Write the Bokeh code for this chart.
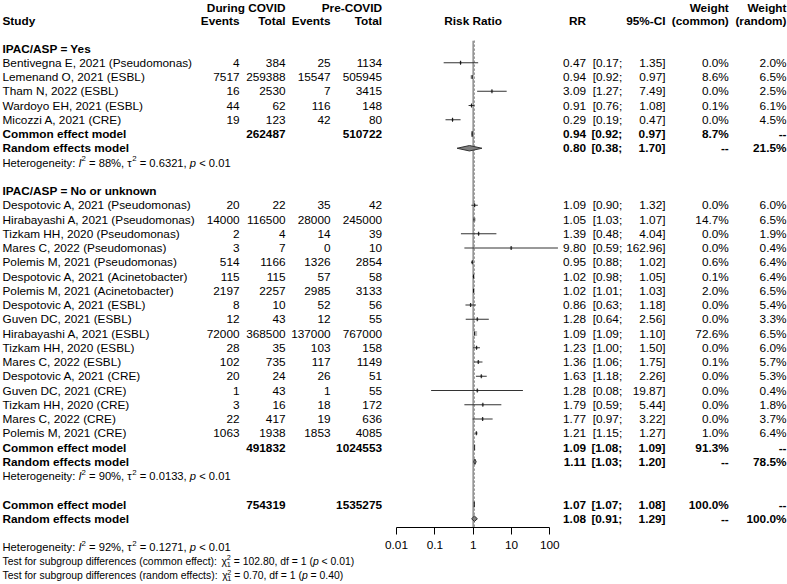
import math
from collections import defaultdict
from bokeh.plotting import figure
from bokeh.models import (Range1d, FixedTicker, ColumnDataSource, CustomJSTickFormatter,
                          LogScale, LogAxis)
from bokeh.core.properties import value
from bokeh.embed import file_html
from bokeh.resources import INLINE

# ---------------- data ----------------
subgroup_titles = ["IPAC/ASP = Yes", "IPAC/ASP = No or unknown"]

studies_yes = ["Bentivegna E, 2021 (Pseudomonas)", "Lemenand O, 2021 (ESBL)",
               "Tham N, 2022 (ESBL)", "Wardoyo EH, 2021 (ESBL)", "Micozzi A, 2021 (CRE)"]
events_covid_yes = [4, 7517, 16, 44, 19]
total_covid_yes = [384, 259388, 2530, 62, 123]
events_pre_yes = [25, 15547, 7, 116, 42]
total_pre_yes = [1134, 505945, 3415, 148, 80]
rr_yes = [0.47, 0.94, 3.09, 0.91, 0.29]
lower_yes = [0.17, 0.92, 1.27, 0.76, 0.19]
upper_yes = [1.35, 0.97, 7.49, 1.08, 0.47]
weight_common_yes = [0.0, 8.6, 0.0, 0.1, 0.0]
weight_random_yes = [2.0, 6.5, 2.5, 6.1, 4.5]

studies_no = ["Despotovic A, 2021 (Pseudomonas)", "Hirabayashi A, 2021 (Pseudomonas)",
              "Tizkam HH, 2020 (Pseudomonas)", "Mares C, 2022 (Pseudomonas)",
              "Polemis M, 2021 (Pseudomonas)", "Despotovic A, 2021 (Acinetobacter)",
              "Polemis M, 2021 (Acinetobacter)", "Despotovic A, 2021 (ESBL)",
              "Guven DC, 2021 (ESBL)", "Hirabayashi A, 2021 (ESBL)", "Tizkam HH, 2020 (ESBL)",
              "Mares C, 2022 (ESBL)", "Despotovic A, 2021 (CRE)", "Guven DC, 2021 (CRE)",
              "Tizkam HH, 2020 (CRE)", "Mares C, 2022 (CRE)", "Polemis M, 2021 (CRE)"]
events_covid_no = [20, 14000, 2, 3, 514, 115, 2197, 8, 12, 72000, 28, 102, 20, 1, 3, 22, 1063]
total_covid_no = [22, 116500, 4, 7, 1166, 115, 2257, 10, 43, 368500, 35, 735, 24, 43, 16, 417, 1938]
events_pre_no = [35, 28000, 14, 0, 1326, 57, 2985, 52, 12, 137000, 103, 117, 26, 1, 18, 19, 1853]
total_pre_no = [42, 245000, 39, 10, 2854, 58, 3133, 56, 55, 767000, 158, 1149, 51, 55, 172, 636, 4085]
rr_no = [1.09, 1.05, 1.39, 9.80, 0.95, 1.02, 1.02, 0.86, 1.28, 1.09, 1.23, 1.36, 1.63, 1.28, 1.79, 1.77, 1.21]
lower_no = [0.90, 1.03, 0.48, 0.59, 0.88, 0.98, 1.01, 0.63, 0.64, 1.09, 1.00, 1.06, 1.18, 0.08, 0.59, 0.97, 1.15]
upper_no = [1.32, 1.07, 4.04, 162.96, 1.02, 1.05, 1.03, 1.18, 2.56, 1.10, 1.50, 1.75, 2.26, 19.87, 5.44, 3.22, 1.27]
weight_common_no = [0.0, 14.7, 0.0, 0.0, 0.6, 0.1, 2.0, 0.0, 0.0, 72.6, 0.0, 0.1, 0.0, 0.0, 0.0, 0.0, 1.0]
weight_random_no = [6.0, 6.5, 1.9, 0.4, 6.4, 6.4, 6.5, 5.4, 3.3, 6.5, 6.0, 5.7, 5.3, 0.4, 1.8, 3.7, 6.4]

sub_common_rr = [0.94, 1.09]
sub_common_lower = [0.92, 1.08]
sub_common_upper = [0.97, 1.09]
sub_common_weight = [8.7, 91.3]
sub_random_rr = [0.80, 1.11]
sub_random_lower = [0.38, 1.03]
sub_random_upper = [1.70, 1.20]
sub_random_weight = [21.5, 78.5]
sub_total_covid = [262487, 491832]
sub_total_pre = [510722, 1024553]
sub_i2 = ["88%", "90%"]
sub_tau2 = ["0.6321", "0.0133"]
sub_p = ["< 0.01", "< 0.01"]

overall_common = [1.07, 1.07, 1.08]   # RR, lower, upper
overall_random = [1.08, 0.91, 1.29]
overall_weight = 100.0
overall_total_covid = 754319
overall_total_pre = 1535275
overall_i2 = "92%"
overall_tau2 = "0.1271"
overall_p = "< 0.01"

test_effects = ["common effect", "random effects"]
test_chi2 = ["102.80", "0.70"]
test_df = [1, 1]
test_p = ["< 0.01", "= 0.40"]

axis_ticks = [0.01, 0.1, 1, 10, 100]
axis_tick_labels = ["0.01", "0.1", "1", "10", "100"]

groups = [
    (studies_yes, events_covid_yes, total_covid_yes, events_pre_yes, total_pre_yes,
     rr_yes, lower_yes, upper_yes, weight_common_yes, weight_random_yes),
    (studies_no, events_covid_no, total_covid_no, events_pre_no, total_pre_no,
     rr_no, lower_no, upper_no, weight_common_no, weight_random_no),
]

# ---------------- layout constants ----------------
W, H = 787, 584
ROW_PX = 14.25
Y_TOP = -48 / ROW_PX
Y_BOT = Y_TOP + H / ROW_PX
Y_AXIS = (527 - 48) / ROW_PX
DEC_PX = 38.33
LOG_START = -2 - 396 / DEC_PX
LOG_END = LOG_START + W / DEC_PX

FONT = value("Liberation Sans")
FS = "11.8px"
FS_HET = 11.2
FS_TEST = 10.4

X_STUDY, X_EV_C, X_TOT_C, X_EV_P, X_TOT_P = 2, 239, 285, 330, 381.5
X_RR, X_LO, X_HI, X_WC, X_WR = 585.5, 621.7, 665, 728.3, 786
H1 = (7.5 - 48) / ROW_PX
H2 = (20.5 - 48) / ROW_PX

texts = defaultdict(lambda: dict(x=[], y=[], t=[]))


def T(fig, x, y, t, align="left", style="normal", size=FS):
    d = texts[(fig, align, style, size)]
    d["x"].append(x)
    d["y"].append(y)
    d["t"].append(t)


# Arial / Liberation Sans advance widths (1/1000 em)
AW = {" ": 278, "%": 889, "(": 333, ")": 333, ",": 278, "-": 333, ".": 278, ":": 278,
      ";": 278, "<": 584, "=": 584, ">": 584, "\u03c4": 440, "\u03c7": 500}
for c in "0123456789":
    AW[c] = 556
for c, w in zip("ABCDEFGHIJKLMNOPQRSTUVWXYZ",
                [667, 667, 722, 722, 667, 611, 778, 722, 278, 500, 667, 556, 833,
                 722, 778, 667, 778, 722, 667, 611, 722, 667, 944, 667, 667, 611]):
    AW[c] = w
for c, w in zip("abcdefghijklmnopqrstuvwxyz",
                [556, 556, 500, 556, 556, 278, 556, 556, 222, 222, 500, 222, 833,
                 556, 556, 556, 556, 333, 500, 278, 556, 500, 722, 500, 500, 500]):
    AW[c] = w


def tw(s, size):
    return sum(AW.get(c, 556) for c in s) / 1000 * size


def rich(x, k, segs, size):
    small = size * 0.7
    for seg in segs:
        kind, txt = seg[0], seg[1]
        if kind in ("n", "i"):
            core = txt.strip(" ")
            lead = len(txt) - len(txt.lstrip(" "))
            trail = len(txt) - len(txt.rstrip(" "))
            x += tw(" " * lead, size)
            T("L", x, k, core, "left", "italic" if kind == "i" else "normal", f"{size}px")
            x += tw(core, size) + tw(" " * trail, size)
        elif kind == "sup":
            T("L", x, k - 0.34 * size / ROW_PX, txt, "left", "normal", f"{small:.2f}px")
            x += tw(txt, small)
        elif kind == "supsub":
            T("L", x, k - 0.36 * size / ROW_PX, txt, "left", "normal", f"{small:.2f}px")
            T("L", x, k + 0.30 * size / ROW_PX, seg[2], "left", "normal", f"{small:.2f}px")
            x += max(tw(txt, small), tw(seg[2], small))


def het_line(k, i2, tau2, p):
    rich(X_STUDY, k, [("n", "Heterogeneity: "), ("i", "I"), ("sup", "2"),
                      ("n", f" = {i2}, "), ("n", "\u03c4"), ("sup", "2"),
                      ("n", f" = {tau2}, "), ("i", "p"), ("n", f" {p}")], FS_HET)


# headers
T("L", X_TOT_C, H1, "During COVID", "right", "bold")
T("L", X_TOT_P, H1, "Pre-COVID", "right", "bold")
T("L", X_STUDY, H2, "Study", "left", "bold")
T("L", X_EV_C, H2, "Events", "right", "bold")
T("L", X_TOT_C, H2, "Total", "right", "bold")
T("L", X_EV_P, H2, "Events", "right", "bold")
T("L", X_TOT_P, H2, "Total", "right", "bold")
T("M", 1, H2, "Risk Ratio", "center", "bold")
T("L", X_RR, H2, "RR", "right", "bold")
T("L", X_HI, H2, "95%-CI", "right", "bold")
T("L", X_WC, H1, "Weight", "right", "bold")
T("L", X_WC, H2, "(common)", "right", "bold")
T("L", X_WR, H1, "Weight", "right", "bold")
T("L", X_WR, H2, "(random)", "right", "bold")

ci_lo, ci_hi, ci_y, est, est_y, sq_size = [], [], [], [], [], []
dia_x, dia_y = [], []
DH = 0.19


def diamond(rr, lo, hi, k):
    dia_x.append([lo, rr, hi, rr])
    dia_y.append([k, k - DH, k, k + DH])


def summary_text(k, label, rr, lo, hi, wc, wr, tc=None, tp=None):
    T("L", X_STUDY, k, label, "left", "bold")
    if tc is not None:
        T("L", X_TOT_C, k, str(tc), "right", "bold")
        T("L", X_TOT_P, k, str(tp), "right", "bold")
    T("L", X_RR, k, f"{rr:.2f}", "right", "bold")
    T("L", X_LO, k, f"[{lo:.2f};", "right", "bold")
    T("L", X_HI, k, f"{hi:.2f}]", "right", "bold")
    T("L", X_WC, k, wc, "right", "bold")
    T("L", X_WR, k, wr, "right", "bold")


k = 0
for gi, g in enumerate(groups):
    names, ec, tc, ep, tp, rr, lo, hi, wc, wr = g
    T("L", X_STUDY, k, subgroup_titles[gi], "left", "bold")
    k += 1
    for i in range(len(names)):
        T("L", X_STUDY, k, names[i])
        T("L", X_EV_C, k, str(ec[i]), "right")
        T("L", X_TOT_C, k, str(tc[i]), "right")
        T("L", X_EV_P, k, str(ep[i]), "right")
        T("L", X_TOT_P, k, str(tp[i]), "right")
        T("L", X_RR, k, f"{rr[i]:.2f}", "right")
        T("L", X_LO, k, f"[{lo[i]:.2f};", "right")
        T("L", X_HI, k, f"{hi[i]:.2f}]", "right")
        T("L", X_WC, k, f"{wc[i]:.1f}%", "right")
        T("L", X_WR, k, f"{wr[i]:.1f}%", "right")
        ci_lo.append(lo[i]); ci_hi.append(hi[i]); ci_y.append(k)
        est.append(rr[i]); est_y.append(k)
        sq_size.append(2.5 + 0.3 * math.sqrt(wc[i]))
        k += 1
    summary_text(k, "Common effect model", sub_common_rr[gi], sub_common_lower[gi],
                 sub_common_upper[gi], f"{sub_common_weight[gi]:.1f}%", "--",
                 sub_total_covid[gi], sub_total_pre[gi])
    diamond(sub_common_rr[gi], sub_common_lower[gi], sub_common_upper[gi], k)
    k += 1
    summary_text(k, "Random effects model", sub_random_rr[gi], sub_random_lower[gi],
                 sub_random_upper[gi], "--", f"{sub_random_weight[gi]:.1f}%")
    diamond(sub_random_rr[gi], sub_random_lower[gi], sub_random_upper[gi], k)
    k += 1
    het_line(k, sub_i2[gi], sub_tau2[gi], sub_p[gi])
    k += 2

summary_text(k, "Common effect model", overall_common[0], overall_common[1], overall_common[2],
             f"{overall_weight:.1f}%", "--", overall_total_covid, overall_total_pre)
diamond(*overall_common, k)
k += 1
summary_text(k, "Random effects model", overall_random[0], overall_random[1], overall_random[2],
             "--", f"{overall_weight:.1f}%")
diamond(*overall_random, k)
k += 2
het_line(k, overall_i2, overall_tau2, overall_p)
k += 1
for ti in range(len(test_effects)):
    rich(X_STUDY, k, [("n", f"Test for subgroup differences ({test_effects[ti]}): "),
                      ("n", "\u03c7"), ("supsub", "2", "1"),
                      ("n", f" = {test_chi2[ti]}, df = {test_df[ti]} ("), ("i", "p"),
                      ("n", f" {test_p[ti]})")], FS_TEST)
    k += 1

# ---------------- figure ----------------
p = figure(width=W, height=H, x_range=Range1d(0, W), y_range=Range1d(Y_BOT, Y_TOP),
           extra_x_ranges={"log": Range1d(10 ** LOG_START, 10 ** LOG_END)},
           extra_x_scales={"log": LogScale()},
           output_backend="svg", toolbar_location=None, min_border=0,
           outline_line_color=None, x_axis_location=None, y_axis_location=None)
p.grid.visible = False
p.background_fill_color = "white"
p.border_fill_color = "white"

ax = LogAxis(x_range_name="log", fixed_location=Y_AXIS)
ax.ticker = FixedTicker(ticks=axis_ticks)
ax.formatter = CustomJSTickFormatter(
    args=dict(tick_values=axis_ticks, tick_labels=axis_tick_labels),
    code="const i = tick_values.indexOf(tick); return i >= 0 ? tick_labels[i] : String(tick);")
ax.bounds = (axis_ticks[0], axis_ticks[-1])
ax.axis_line_color = "black"
ax.major_tick_line_color = "black"
ax.major_tick_in = 0
ax.major_tick_out = 7
ax.minor_tick_line_color = None
ax.major_label_text_font = "Liberation Sans"
ax.major_label_text_font_size = FS
ax.major_label_text_color = "black"
ax.major_label_standoff = 6
p.add_layout(ax, "below")

# reference line at 1 and dashed pooled-estimate lines
REF_TOP = -0.55
p.segment(x0=[1], y0=[REF_TOP], x1=[1], y1=[Y_AXIS], line_color="#8c8c8c", line_width=1.5,
          x_range_name="log")
p.segment(x0=[overall_common[0], overall_random[0]], y0=[REF_TOP, REF_TOP],
          x1=[overall_common[0], overall_random[0]], y1=[Y_AXIS, Y_AXIS],
          line_color="#9a9a9a", line_width=1, line_dash="2 2", x_range_name="log")

# study squares, CIs, estimates
p.scatter(x=est, y=est_y, size=sq_size, marker="square", fill_color="#bdbdbd",
          line_color=None, x_range_name="log")
p.segment(x0=ci_lo, y0=ci_y, x1=ci_hi, y1=ci_y, line_color="#333333", line_width=1,
          x_range_name="log")
p.scatter(x=est, y=est_y, marker="dash", angle=math.pi / 2, size=4,
          line_color="#111111", line_width=1, x_range_name="log")

# diamonds
p.patches(xs=dia_x, ys=dia_y, fill_color="#808080", line_color="#333333", line_width=1,
          x_range_name="log")

for (fk, align, style, size), d in texts.items():
    kw = dict(x_range_name="log") if fk == "M" else {}
    p.text(x="x", y="y", text="t", source=ColumnDataSource(d),
           text_align=align, text_baseline="middle", text_font=FONT,
           text_font_size=value(size), text_font_style=style,
           text_color="black", **kw)

open("out.html", "w").write(file_html(p, INLINE))
